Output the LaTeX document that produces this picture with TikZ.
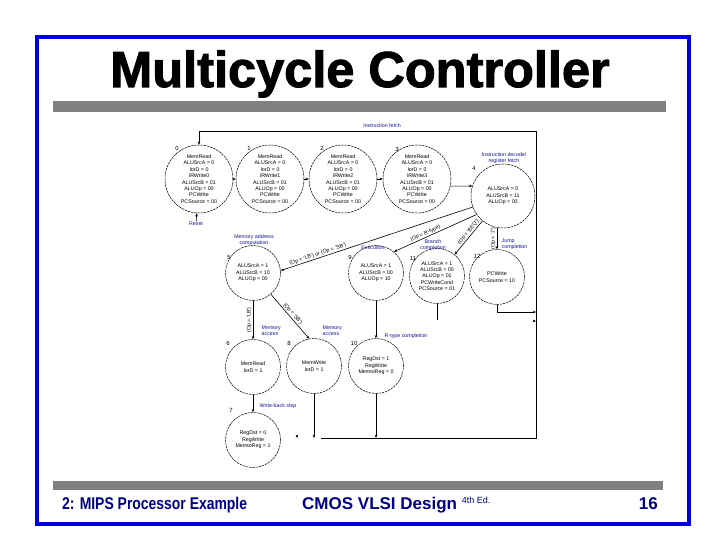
\documentclass[tikz,border=0pt]{standalone}
\usepackage{fontspec}
\usepackage{graphicx}
\setmainfont{Liberation Sans}
\newfontfamily\heavyfont{Liberation Sans}[FakeBold=2]
\usetikzlibrary{calc,arrows.meta}
\definecolor{frameblue}{RGB}{0,0,225}
\definecolor{footblue}{RGB}{0,0,135}
\definecolor{noteblue}{RGB}{20,20,150}

\tikzset{
	fsm/.style={circle, draw, line width=0.5pt, dash pattern=on 2.5pt off 0.8pt, inner sep=0pt, align=center, font=\fontsize{5.3}{6.4}\selectfont},
	bigfsm/.style={fsm, minimum size=68pt},
	smallfsm/.style={fsm, minimum size=55pt},
	note/.style={text=noteblue, align=center, inner sep=0.5pt, font=\fontsize{5.3}{6}\selectfont},
	cond/.style={inner sep=1pt, font=\fontsize{5.3}{6}\selectfont},
	num/.style={inner sep=0pt, font=\fontsize{6}{7}\selectfont},
	wire/.style={line width=0.6pt},
	bar/.style={fill=black!50},
	foot/.style={text=footblue, inner sep=0pt, font=\fontsize{17}{20}\selectfont\bfseries},
}

\begin{document}
\begin{tikzpicture}[x=1pt, y=-1pt, >={Stealth[length=3.2pt,width=2.6pt]}]
		%%%%% START %%%%%
		\useasboundingbox[fill=white] (0,0) rectangle (720,540);
		
		\draw[frameblue, line width=4pt] (37,37) rectangle (689,524);
		\node[anchor=base, inner sep=0pt, font=\fontsize{50.5}{52}\heavyfont\bfseries] (title) at (360,87) {Multicycle Controller};
		\fill[bar] (53,101) rectangle (666,112);
		\fill[bar] (53,481) rectangle (663,490);
		
		\node[foot, anchor=base west] (chap) at (62,509) {\scalebox{0.82}[1]{2: MIPS Processor Example}};
		\node[foot, anchor=base west] (book) at (302,509) {CMOS VLSI Design \raisebox{6pt}{\fontsize{9}{10}\selectfont\mdseries 4th Ed.}};
		\node[foot, anchor=base east] (page) at (658,509) {16};
		
		%%%%% STATES %%%%%
		\node[bigfsm] (s0) at (199,179) {MemRead\\ALUSrcA = 0\\IorD = 0\\IRWrite0\\ALUSrcB = 01\\ALUOp = 00\\PCWrite\\PCSource = 00};
		\node[bigfsm] (s1) at (270,179) {MemRead\\ALUSrcA = 0\\IorD = 0\\IRWrite1\\ALUSrcB = 01\\ALUOp = 00\\PCWrite\\PCSource = 00};
		\node[bigfsm] (s2) at (343,179) {MemRead\\ALUSrcA = 0\\IorD = 0\\IRWrite2\\ALUSrcB = 01\\ALUOp = 00\\PCWrite\\PCSource = 00};
		\node[bigfsm] (s3) at (417,179) {MemRead\\ALUSrcA = 0\\IorD = 0\\IRWrite3\\ALUSrcB = 01\\ALUOp = 00\\PCWrite\\PCSource = 00};
		\node[fsm, minimum size=64pt] (s4) at (503,196) {ALUSrcA = 0\\ALUSrcB = 11\\ALUOp = 00};
		
		\node[smallfsm] (s5) at (253,273) {ALUSrcA = 1\\ALUSrcB = 10\\ALUOp = 00};
		\node[smallfsm] (s9) at (376,273) {ALUSrcA = 1\\ALUSrcB = 00\\ALUOp = 10};
		\node[smallfsm] (s11) at (437,276) {ALUSrcA = 1\\ALUSrcB = 00\\ALUOp = 01\\PCWriteCond\\PCSource = 01};
		\node[smallfsm] (s12) at (497,277) {PCWrite\\PCSource = 10};
		
		\node[smallfsm] (s6) at (253,367) {MemRead\\IorD = 1};
		\node[smallfsm] (s8) at (314,366) {MemWrite\\IorD = 1};
		\node[smallfsm] (s10) at (376,366) {RegDst = 1\\RegWrite\\MemtoReg = 0};
		\node[smallfsm] (s7) at (253,440) {RegDst = 0\\RegWrite\\MemtoReg = 1};
		
		\node[num] (n0) at (177,148) {0};
		\node[num] (n1) at (249,148) {1};
		\node[num] (n2) at (322,148) {2};
		\node[num] (n3) at (397,149) {3};
		\node[num] (n4) at (474,168) {4};
		\node[num] (n5) at (229,257) {5};
		\node[num] (n9) at (350,257) {9};
		\node[num] (n11) at (413,258) {11};
		\node[num] (n12) at (477,256) {12};
		\node[num] (n6) at (228,343) {6};
		\node[num] (n8) at (289,343) {8};
		\node[num] (n10) at (354,343) {10};
		\node[num] (n7) at (231,410) {7};
		
		%%%%% STEP NAMES %%%%%
		\node[note] (ifetch) at (382,126) {Instruction fetch};
		\node[note] (idecode) at (504,158) {Instruction decode/\\register fetch};
		\node[note] (reset) at (196,224) {Reset};
		\node[note] (madr) at (254,240) {Memory address\\computation};
		\node[note] (exec) at (373,248) {Execution};
		\node[note] (bcomp) at (433,245) {Branch\\completion};
		\node[note, align=left, anchor=west] (jcomp) at (501,244) {Jump\\completion};
		\node[note, align=left, anchor=west] (macc) at (261,331) {Memory\\access};
		\node[note, align=left, anchor=west] (macc2) at (322,331) {Memory\\access};
		\node[note, anchor=west] (rcomp) at (384,336) {R-type completion};
		\node[note, anchor=west] (wback) at (259,406) {Write-back step};
		
		%%%%% TRANSITIONS %%%%%
		\coordinate (tr) at (536,131);
		\coordinate (br) at (536,438);
		\coordinate (bl) at (321,438);
		\coordinate (jr) at (536,312);
		\coordinate (b11) at (437,320);
		
		\draw[wire,->] (s0) -- (s1);
		\draw[wire,->] (s1) -- (s2);
		\draw[wire,->] (s2) -- (s3);
		\draw[wire,->] (s3.-12) -- (s4.162);
		\draw[wire,->] (reset) -- (s0);
		\draw[wire,->] (bl) -- (br) -- (tr) -- (s0.north |- tr) -- (s0.north);
		
		\draw[wire,<-] (s5.5) -- node[cond, sloped, above, pos=0.2] {(Op = 'LB') or (Op = 'SB')} (s4.200);
		\draw[wire,<-] (s9.50) -- node[cond, sloped, above, pos=0.4] {(Op = R-type)} (s4.215);
		\draw[wire,<-] (s11) -- node[cond, sloped, above, pos=0.6] {(Op = 'BEQ')} (s4);
		\draw[wire,->] (s12.north |- s4.south) -- node[cond, rotate=90, anchor=south] {(Op = 'J')} (s12.north);
		
		\draw[wire,->] (s5) -- node[cond, rotate=90, anchor=south] {(Op = 'LB')} (s6);
		\draw[wire,->] (s5.-50) -- node[cond, sloped, above] {(Op = 'SB')} (s8.100);
		\draw[wire,->] (s9) -- (s10);
		\draw[wire,->] (s6) -- (s7);
		
		\draw[wire,->] (s8) -- (s8 |- bl);
		\draw[wire,->] (s10) -- (s10 |- bl);
		\draw[wire,->] (s12) |- (jr);
		\draw[wire] (s11) -- (b11);
		\draw[wire,->] ($(jr)+(-3,9)$) -- ($(jr)+(0,9)$);
		\draw[wire,->] ($(bl)+(-24,-3)$) -- ($(bl)+(-24,0)$);
		
		%%%%% END %%%%%
	\end{tikzpicture}
\end{document}
